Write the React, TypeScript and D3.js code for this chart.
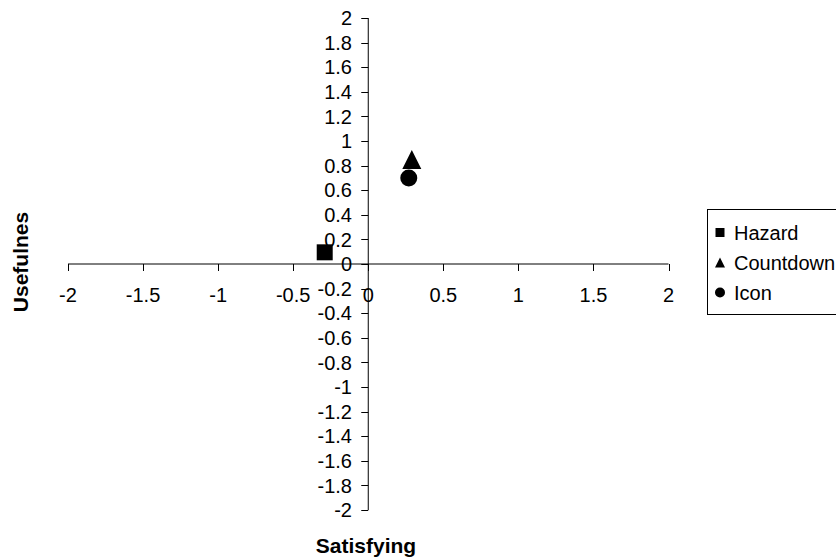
import React from "react";
import * as d3 from "d3";

const seriesNames = ["Hazard", "Countdown", "Icon"];
const seriesShapes = ["square", "triangle", "circle"];
const xValues = [-0.29, 0.29, 0.27];
const yValues = [0.095, 0.85, 0.7];
const xTicks = [-2, -1.5, -1, -0.5, 0, 0.5, 1, 1.5, 2];
const yTicks = [2, 1.8, 1.6, 1.4, 1.2, 1, 0.8, 0.6, 0.4, 0.2, 0, -0.2, -0.4, -0.6, -0.8, -1, -1.2, -1.4, -1.6, -1.8, -2];
const xTitle = "Satisfying";
const yTitle = "Usefulnes";

const W = 836;
const H = 560;
const FONT = "'Liberation Sans', Arial, sans-serif";

function markerPath(shape: string, size: number) {
  const r = size / 2;
  if (shape === "square") return `M${-r},${-r}H${r}V${r}H${-r}Z`;
  if (shape === "triangle") return `M0,${-r}L${r},${r}L${-r},${r}Z`;
  const p = d3.path();
  p.arc(0, 0, r, 0, Math.PI * 2);
  p.closePath();
  return p.toString();
}

export default function App() {
  const x = d3.scaleLinear().domain([-2, 2]).range([68, 668.5]);
  const y = d3.scaleLinear().domain([-2, 2]).range([510, 18]);
  const x0 = x(0);
  const y0 = y(0);
  const markerSize: Record<string, number> = { square: 16, triangle: 19, circle: 17 };
  const legendSize: Record<string, number> = { square: 9, triangle: 10, circle: 10 };
  const fmt = (v: number) => (Math.abs(v) < 1e-9 ? "0" : String(v));
  return (
    <svg width={W} height={H} style={{ position: "absolute", left: 0, top: 0, background: "#fff" }} fontFamily={FONT}>
      <rect width={W} height={H} fill="#fff" />
      {/* x axis */}
      <line x1={x(-2)} x2={x(2)} y1={y0} y2={y0} stroke="#000" strokeWidth={1} />
      {xTicks.map((t) => (
        <g key={"xt" + t}>
          <line x1={Math.round(x(t)) + 0.5} x2={Math.round(x(t)) + 0.5} y1={y0} y2={y0 + 7} stroke="#000" />
          <text x={x(t)} y={302} textAnchor="middle" fontSize={20} fill="#000">{fmt(t)}</text>
        </g>
      ))}
      {/* y axis */}
      <line x1={x0} x2={x0} y1={y(2)} y2={y(-2)} stroke="#000" strokeWidth={1} />
      {yTicks.map((t) => (
        <g key={"yt" + t}>
          <line x1={x0 - 7} x2={x0} y1={Math.round(y(t)) + 0.5} y2={Math.round(y(t)) + 0.5} stroke="#000" />
          <text x={352} y={y(t)} dy="0.36em" textAnchor="end" fontSize={20} fill="#000">{fmt(t)}</text>
        </g>
      ))}
      {/* points */}
      {seriesNames.map((s, i) => (
        <path key={s} d={markerPath(seriesShapes[i], markerSize[seriesShapes[i]])}
          transform={`translate(${x(xValues[i])},${y(yValues[i])})`} fill="#000" />
      ))}
      {/* titles */}
      <text x={366} y={553} textAnchor="middle" fontSize={21} fontWeight="bold" fill="#000">{xTitle}</text>
      <text transform={`translate(28,${262}) rotate(-90)`} textAnchor="middle" fontSize={21} fontWeight="bold" fill="#000">{yTitle}</text>
      {/* legend */}
      <rect x={707.5} y={209.5} width={140} height={105} fill="#fff" stroke="#000" strokeWidth={1} />
      {seriesNames.map((s, i) => (
        <g key={"lg" + s}>
          <path d={markerPath(seriesShapes[i], legendSize[seriesShapes[i]])}
            transform={`translate(720,${232.5 + i * 30})`} fill="#000" />
          <text x={734} y={232.5 + i * 30} dy="0.36em" fontSize={20} fill="#000">{s}</text>
        </g>
      ))}
    </svg>
  );
}
